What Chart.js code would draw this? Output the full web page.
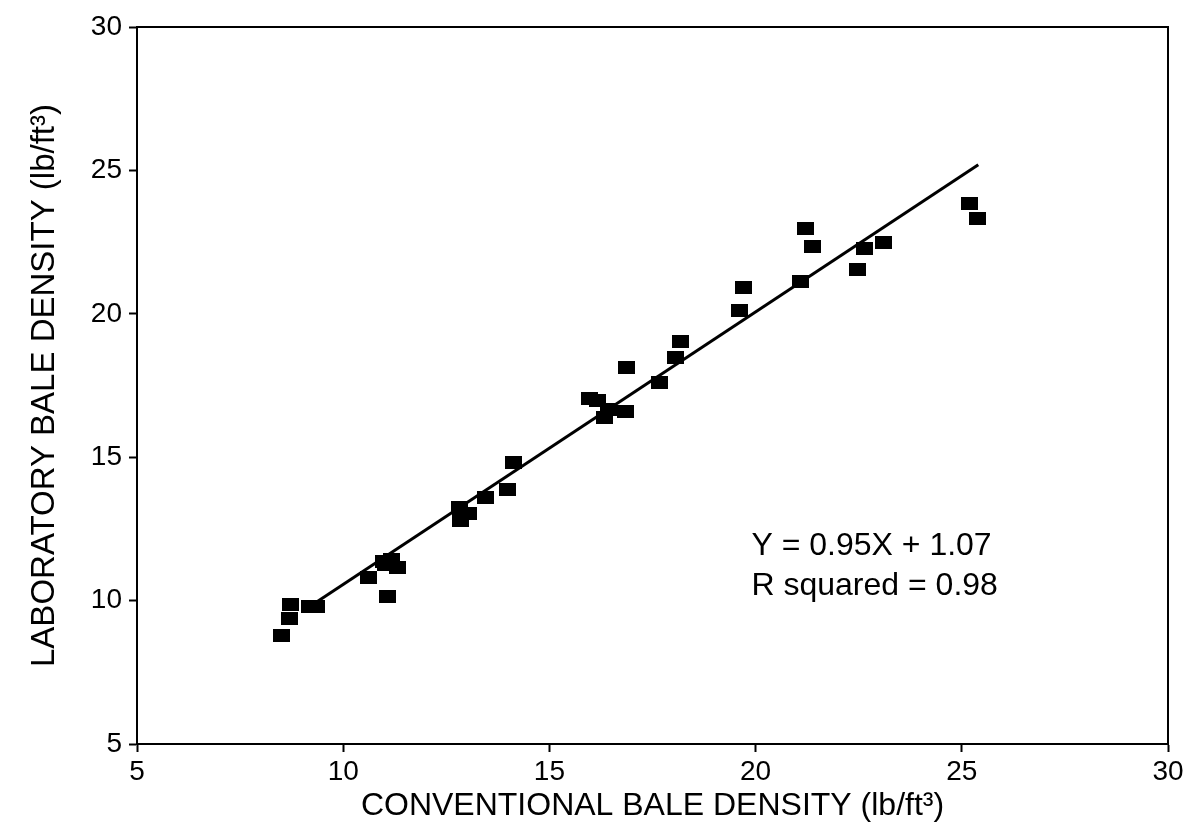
<!DOCTYPE html>
<html>
<head>
<meta charset="utf-8">
<script src="https://cdn.jsdelivr.net/npm/chart.js@4/dist/chart.umd.min.js"></script>
<style>
  body { margin: 0; background: #fff; }
  #chart { display: block; }
</style>
</head>
<body>
<canvas id="chart" width="1190" height="829"></canvas>
<script>
// measured points (conventional vs laboratory bale density, lb/ft3)
const conventional = [8.51, 8.70, 8.73, 9.18, 9.36, 10.62, 10.98, 11.03, 11.18, 11.32, 11.08,
    12.82, 12.85, 13.04, 13.45, 13.98, 14.13,
    15.97, 16.16, 16.33, 16.43, 16.84, 16.86, 17.66, 18.05, 18.17,
    19.62, 19.70, 21.08, 21.20, 21.37, 22.48, 22.65, 23.09, 25.19, 25.39];
const laboratory = [8.80, 9.39, 9.88, 9.78, 9.80, 10.82, 11.38, 11.25, 11.45, 11.14, 10.13,
    13.23, 12.78, 13.02, 13.58, 13.86, 14.83,
    17.06, 16.96, 16.37, 16.65, 16.61, 18.14, 17.59, 18.49, 19.05,
    20.13, 20.93, 21.11, 22.96, 22.36, 21.56, 22.29, 22.50, 23.86, 23.31];

// fitted line end points
const fitX = [9.3, 25.4];
const fitY = [9.9, 25.2];

const tickValues = [5, 10, 15, 20, 25, 30];
const equationLines = ['Y = 0.95X + 1.07', 'R squared = 0.98'];

const FONT = '"Liberation Sans", Arial, sans-serif';

// black square marker
const marker = document.createElement('canvas');
marker.width = 17;
marker.height = 13;
const mctx = marker.getContext('2d');
mctx.fillStyle = '#000';
mctx.fillRect(0, 0, 17, 13);

const points = conventional.map((x, i) => ({ x: x, y: laboratory[i] }));
const fitLine = fitX.map((x, i) => ({ x: x, y: fitY[i] }));

const boxAndText = {
    id: 'boxAndText',
    afterDraw(chart) {
        const ctx = chart.ctx;
        const a = chart.chartArea;
        ctx.save();
        ctx.strokeStyle = '#000';
        ctx.lineWidth = 2;
        ctx.strokeRect(a.left, a.top, a.right - a.left, a.bottom - a.top);
        ctx.fillStyle = '#000';
        ctx.font = '32px ' + FONT;
        ctx.textBaseline = 'middle';
        const x = chart.scales.x.getPixelForValue(19.9);
        ctx.fillText(equationLines[0], x, chart.scales.y.getPixelForValue(11.9));
        ctx.fillText(equationLines[1], x, chart.scales.y.getPixelForValue(10.5));
        ctx.restore();
    }
};

const ticksFor = (min, max) => ({
    min: min, max: max,
    afterBuildTicks: s => { s.ticks = tickValues.map(v => ({ value: v })); }
});

new Chart(document.getElementById('chart').getContext('2d'), {
    type: 'scatter',
    data: {
        datasets: [
            {
                data: points,
                pointStyle: marker,
                pointRadius: 8,
                backgroundColor: '#000',
                borderColor: '#000',
                order: 1
            },
            {
                type: 'line',
                data: fitLine,
                borderColor: '#000',
                borderWidth: 3,
                pointRadius: 0,
                fill: false,
                order: 2
            }
        ]
    },
    options: {
        responsive: false,
        animation: false,
        layout: { padding: { top: 27, right: 22, left: 0, bottom: 0 } },
        plugins: { legend: { display: false }, tooltip: { enabled: false } },
        scales: {
            x: {
                type: 'linear',
                ...ticksFor(5, 30),
                afterFit: s => { s.height = 85; },
                grid: { drawOnChartArea: false, color: '#000', tickLength: 8, tickWidth: 2 },
                border: { color: '#000', width: 2 },
                ticks: { color: '#000', font: { family: FONT, size: 28 }, padding: 3 },
                title: {
                    display: true,
                    text: 'CONVENTIONAL BALE DENSITY (lb/ft³)',
                    color: '#000',
                    font: { family: FONT, size: 32 },
                    padding: { top: 0, bottom: 4 }
                }
            },
            y: {
                type: 'linear',
                ...ticksFor(5, 30),
                afterFit: s => { s.width = 137; },
                grid: { drawOnChartArea: false, color: '#000', tickLength: 8, tickWidth: 2 },
                border: { color: '#000', width: 2 },
                ticks: { color: '#000', font: { family: FONT, size: 28 }, padding: 7 },
                title: {
                    display: true,
                    text: 'LABORATORY BALE DENSITY (lb/ft³)',
                    color: '#000',
                    font: { family: FONT, size: 33 },
                    padding: { top: 25, bottom: 0 }
                }
            }
        }
    },
    plugins: [boxAndText]
});
</script>
</body>
</html>
